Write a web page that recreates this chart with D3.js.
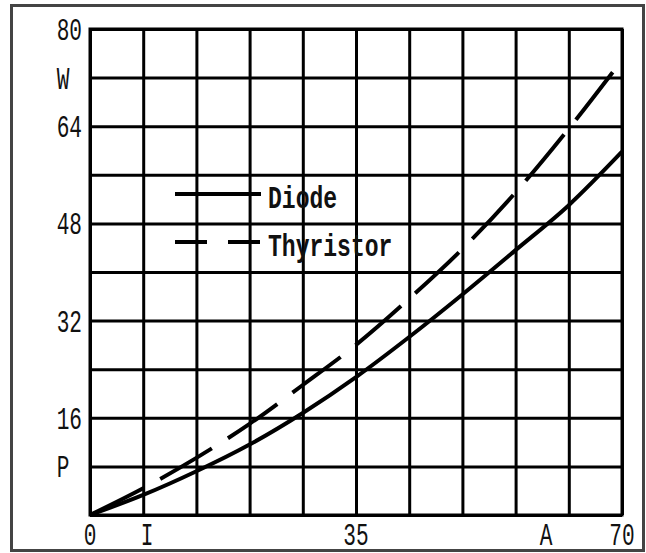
<!DOCTYPE html>
<html lang="en">
<head>
    <meta charset="UTF-8">
    <title>Diode / Thyristor loss</title>
    <script src="https://d3js.org/d3.v7.min.js"></script>
    <style>
        body { margin: 0; padding: 0; background: #fff; }
        svg { display: block; }
        .grid line, .grid path { stroke: #000; stroke-width: 3px; }
        .lbl { font-family: "Liberation Mono", monospace; font-size: 32px; fill: #111; }
        .leg { font-family: "Liberation Mono", monospace; font-size: 32px; font-weight: bold; fill: #111; }
    </style>
</head>
<body>
<div id="chart"></div>
<script>
    // current in A, power loss in W
    const current = [0, 7, 14, 21, 28, 35, 42, 49, 56, 63, 70];
    const diode = [0, 3.3, 7.2, 11.6, 16.8, 22.7, 29.3, 36.3, 43.6, 51.0, 59.8];
    const thyristor = [0, 4.4, 9.4, 15.0, 21.4, 28.0, 35.6, 43.8, 53.1, 63.6, 74.9];

    const xTicks = [0, 7.5, 35, 60, 70];
    const xTickLabels = ["0", "I", "35", "A", "70"];
    const yTicks = [80, 72, 64, 48, 32, 16, 8];
    const yTickLabels = ["80", "W", "64", "48", "32", "16", "P"];

    const seriesNames = ["Diode", "Thyristor"];

    const width = 646, height = 553;
    const plot = { left: 90, top: 29, right: 622, bottom: 515 };

    const svg = d3.select("#chart").append("svg")
        .attr("width", width)
        .attr("height", height);

    // outer frame
    svg.append("rect")
        .attr("x", 11.5).attr("y", 5.5)
        .attr("width", 632).attr("height", 545)
        .attr("fill", "none")
        .attr("stroke", "#444")
        .attr("stroke-width", 3);

    const x = d3.scaleLinear().domain([0, 70]).range([plot.left, plot.right]);
    const y = d3.scaleLinear().domain([0, 80]).range([plot.bottom, plot.top]);

    // grid, drawn with axes
    svg.append("g")
        .attr("class", "grid")
        .attr("transform", `translate(0,${plot.bottom})`)
        .call(d3.axisBottom(x).tickValues(d3.range(0, 71, 7))
            .tickSize(-(plot.bottom - plot.top)).tickSizeOuter(0).tickFormat(""))
        .call(g => g.select(".domain").remove());

    svg.append("g")
        .attr("class", "grid")
        .attr("transform", `translate(${plot.left},0)`)
        .call(d3.axisLeft(y).tickValues(d3.range(0, 81, 8))
            .tickSize(-(plot.right - plot.left)).tickSizeOuter(0).tickFormat(""))
        .call(g => g.select(".domain").remove());

    svg.append("rect")
        .attr("x", plot.left).attr("y", plot.top)
        .attr("width", plot.right - plot.left).attr("height", plot.bottom - plot.top)
        .attr("fill", "none").attr("stroke", "#000").attr("stroke-width", 3);

    // tick labels (condensed monospace look)
    const sx = 0.66;
    svg.append("g").selectAll("text")
        .data(xTicks)
        .join("text")
        .attr("class", "lbl")
        .attr("text-anchor", "middle")
        .attr("transform", d => `translate(${x(d)},${plot.bottom + 30}) scale(${sx},1)`)
        .text((d, i) => xTickLabels[i]);

    svg.append("g").selectAll("text")
        .data(yTicks)
        .join("text")
        .attr("class", "lbl")
        .attr("text-anchor", (d, i) => isNaN(+yTickLabels[i]) ? "middle" : "end")
        .attr("transform", (d, i) => {
            const tx = isNaN(+yTickLabels[i]) ? 63 : 82;
            return `translate(${tx},${y(d) + 11}) scale(${sx},1)`;
        })
        .text((d, i) => yTickLabels[i]);

    // curves
    const line = d3.line()
        .x((d, i) => x(current[i]))
        .y(d => y(d))
        .curve(d3.curveMonotoneX);

    svg.append("path")
        .datum(diode)
        .attr("d", line)
        .attr("fill", "none")
        .attr("stroke", "#000")
        .attr("stroke-width", 4);

    svg.append("path")
        .datum(thyristor)
        .attr("d", line)
        .attr("fill", "none")
        .attr("stroke", "#000")
        .attr("stroke-width", 4)
        .attr("stroke-dasharray", "60,19");

    // legend
    const legend = svg.append("g");
    const legY = [194, 242];
    const dash = ["none", "32,21"];
    seriesNames.forEach((name, i) => {
        legend.append("line")
            .attr("x1", 175).attr("x2", 261)
            .attr("y1", legY[i]).attr("y2", legY[i])
            .attr("stroke", "#000")
            .attr("stroke-width", 4)
            .attr("stroke-dasharray", dash[i]);
        legend.append("text")
            .attr("class", "leg")
            .attr("transform", `translate(268,${legY[i] + 14}) scale(0.72,1)`)
            .text(name);
    });
</script>
</body>
</html>
